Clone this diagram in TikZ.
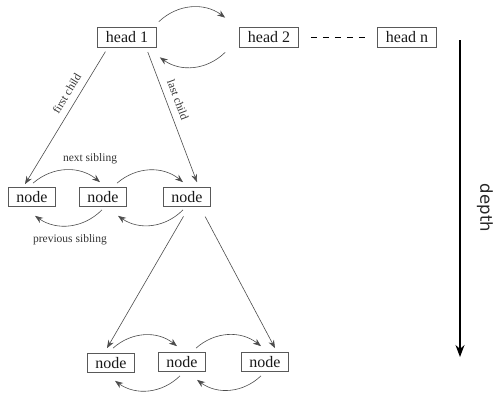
\documentclass[tikz,border=0pt]{standalone}
\usepackage{fontspec}
\setmainfont{Liberation Serif}
\newfontfamily\depthfont{DejaVu Sans}
\usetikzlibrary{arrows.meta,calc}
\begin{document}
\begin{tikzpicture}[x=1pt,y=1pt,
  box/.style={draw=black!65,line width=0.7pt,inner sep=0pt,minimum height=19pt,
    text=black!90,font=\fontsize{16}{18}\selectfont},
  nbox/.style={box,minimum width=47pt},
  hbox/.style={box,minimum width=59pt,minimum height=20pt},
  arr/.style={draw=black!70,line width=0.6pt,-{Stealth[length=8pt,width=6pt]}},
  lab/.style={text=black!80,font=\fontsize{11.5}{13}\selectfont,inner sep=1pt}]
\useasboundingbox (0,0) rectangle (500,-400);
% heads
\node[hbox] (h1) at (127,-37) {head 1};
\node[hbox] (h2) at (269,-37) {head 2};
\node[hbox] (hn) at (407,-37) {head n};
\draw[line width=0.8pt,dash pattern=on 6pt off 6pt] ([xshift=12pt]h2.east) -- ([xshift=-12pt]hn.west);
% level 2
\node[nbox] (n1) at (32,-197) {node};
\node[nbox] (n2) at (103,-197) {node};
\node[nbox] (n3) at (187,-197) {node};
% level 3
\node[nbox] (m1) at (111,-363) {node};
\node[nbox] (m2) at (182,-362) {node};
\node[nbox] (m3) at (265,-362) {node};
% head links
\coordinate (a1) at ([xshift=2pt,yshift=5pt]h1.north east);
\coordinate (a2) at ([xshift=-14pt,yshift=9pt]h2.north west);
\draw[arr] (a1) to[bend left=40] (a2);
\coordinate (b1) at ([xshift=-14pt,yshift=-5pt]h2.south west);
\coordinate (b2) at ([xshift=3pt,yshift=-10pt]h1.south east);
\draw[arr] (b1) to[bend left=40] (b2);
% children
\draw[arr,shorten <=5pt] ([xshift=-19pt]h1.south) -- ([xshift=-7pt,yshift=3pt]n1.north)
  node[lab,pos=0.38,sloped,above=6pt] {first child};
\draw[arr,shorten <=5pt] ([xshift=19pt]h1.south) -- ([xshift=10pt,yshift=5pt]n3.north)
  node[lab,pos=0.42,sloped,above=6pt] {last child};
\draw[arr,shorten <=11pt] ([xshift=2pt]n3.south) -- ([xshift=-4pt,yshift=5pt]m1.north);
\draw[arr,shorten <=11pt] ([xshift=13pt]n3.south) -- ([xshift=10pt,yshift=4pt]m3.north);
% siblings level 2
\draw[arr] ([xshift=1pt,yshift=4pt]n1.north) to[bend left=40] ([xshift=-3pt,yshift=5pt]n2.north);
\draw[arr] ([xshift=14pt,yshift=4pt]n2.north) to[bend left=40] ([xshift=-4pt,yshift=5pt]n3.north);
\draw[arr] ([xshift=-1pt,yshift=-3pt]n2.south) to[bend left=40] ([xshift=3pt,yshift=-9pt]n1.south);
\draw[arr] ([xshift=-4pt,yshift=-3pt]n3.south) to[bend left=40] ([xshift=15pt,yshift=-9pt]n2.south);
\node[lab] (ns) at (90,-159) {next sibling};
\node[lab] (ps) at (70,-240) {previous sibling};
% siblings level 3
\draw[arr] ([xshift=2pt,yshift=5pt]m1.north) to[bend left=40] ([xshift=-5pt,yshift=6pt]m2.north);
\draw[arr] ([xshift=14pt,yshift=4pt]m2.north) to[bend left=40] ([xshift=-4pt,yshift=6pt]m3.north);
\draw[arr] ([xshift=-2pt,yshift=-4pt]m2.south) to[bend left=40] ([xshift=4pt,yshift=-8pt]m1.south);
\draw[arr] ([xshift=-4pt,yshift=-4pt]m3.south) to[bend left=40] ([xshift=15pt,yshift=-8pt]m2.south);
% depth
\coordinate (dt) at (460,-40);
\coordinate (db) at (460,-357);
\draw[line width=1.1pt,-{Stealth[length=12pt,width=9pt]}] (dt) -- (db);
\node[rotate=-90,font=\depthfont\fontsize{16.5}{19}\selectfont,text=black!85] (dl) at (485,-208) {depth};
\end{tikzpicture}
\end{document}
